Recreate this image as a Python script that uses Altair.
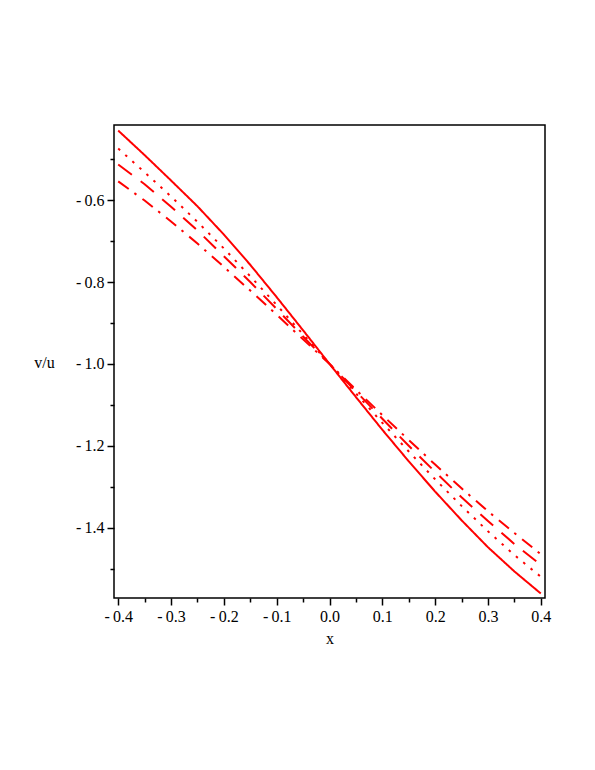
import altair as alt
import pandas as pd

# x positions of the readings
x_vals = [-0.4, -0.35, -0.3, -0.25, -0.2, -0.15, -0.1, -0.05, 0.0,
          0.05, 0.1, 0.15, 0.2, 0.25, 0.3, 0.35, 0.4]

# v/u readings for each curve
solid = [-0.430, -0.490, -0.552, -0.615, -0.684, -0.758, -0.837, -0.918, -1.0,
         -1.081, -1.161, -1.238, -1.312, -1.382, -1.448, -1.507, -1.561]
dotted = [-0.474, -0.532, -0.591, -0.653, -0.718, -0.786, -0.856, -0.928, -1.0,
          -1.072, -1.144, -1.214, -1.282, -1.347, -1.409, -1.467, -1.520]
dashed = [-0.513, -0.561, -0.616, -0.674, -0.737, -0.800, -0.866, -0.933, -1.0,
          -1.067, -1.134, -1.200, -1.264, -1.326, -1.384, -1.440, -1.491]
dashdot = [-0.554, -0.601, -0.652, -0.706, -0.763, -0.821, -0.880, -0.940, -1.0,
           -1.063, -1.125, -1.186, -1.246, -1.304, -1.360, -1.413, -1.465]

series_names = ["solid", "dotted", "dashed", "dashdot"]
series_vals = [solid, dotted, dashed, dashdot]

x_ticks = [-0.4, -0.35, -0.3, -0.25, -0.2, -0.15, -0.1, -0.05, 0.0,
           0.05, 0.1, 0.15, 0.2, 0.25, 0.3, 0.35, 0.4]
y_ticks = [-0.5, -0.6, -0.7, -0.8, -0.9, -1.0, -1.1, -1.2, -1.3, -1.4, -1.5]

rows = []
for name, vals in zip(series_names, series_vals):
    for xv, yv in zip(x_vals, vals):
        rows.append({"x": xv, "y": yv, "series": name})
df = pd.DataFrame(rows)

FONT = "Liberation Serif"

minor_x = "abs(round(datum.value*10) - datum.value*10) > 0.01"
minor_y = "abs(round(datum.value*5) - datum.value*5) > 0.01"

label_x = ("(" + minor_x + ") ? '' : (datum.value < -0.001 ? '-\u2009' + format(-datum.value, '.1f') : format(abs(datum.value), '.1f'))")
label_y = ("(" + minor_y + ") ? '' : (datum.value < -0.001 ? '-\u2009' + format(-datum.value, '.1f') : format(abs(datum.value), '.1f'))")

chart = alt.Chart(df).mark_line(color="#ff0000", strokeWidth=2).encode(
    x=alt.X("x:Q",
            scale=alt.Scale(domain=[-0.408, 0.408], nice=False, zero=False),
            axis=alt.Axis(values=x_ticks, title="x", domain=False, grid=False,
                          labelExpr=label_x, labelFlush=False, labelOverlap=False,
                          tickSize={"condition": {"test": minor_x, "value": 4}, "value": 7},
                          tickColor="black", tickWidth=1.5,
                          labelFont=FONT, labelFontSize=16, labelColor="black",
                          labelPadding=3, titleFont=FONT, titleFontSize=16,
                          titleFontWeight="normal", titleColor="black", titlePadding=6)),
    y=alt.Y("y:Q",
            scale=alt.Scale(domain=[-1.572, -0.4164], nice=False, zero=False),
            axis=alt.Axis(values=y_ticks, title="v/u", domain=False, grid=False,
                          labelExpr=label_y, labelOverlap=False, labelFlush=False,
                          tickSize={"condition": {"test": minor_y, "value": 4}, "value": 7},
                          tickColor="black", tickWidth=1.5,
                          labelFont=FONT, labelFontSize=16, labelColor="black",
                          labelPadding=3, titleFont=FONT, titleFontSize=16,
                          titleFontWeight="normal", titleColor="black",
                          titleAngle=0, titleAlign="center", titleBaseline="middle",
                          titleX=-70, titleY=237)),
    strokeDash=alt.StrokeDash("series:N",
                              scale=alt.Scale(domain=series_names,
                                              range=[[1, 0], [2.5, 7], [17, 11], [13, 7, 2.5, 7.5]]),
                              legend=None),
    detail="series:N",
).properties(
    width=431,
    height=473,
    autosize=alt.AutoSizeParams(type="none"),
    padding={"left": 106, "top": 117, "right": 30, "bottom": 150},
).configure_view(
    stroke="black", strokeWidth=1.5
)

chart.save("out.html", embed_options={"renderer": "svg", "actions": False})
